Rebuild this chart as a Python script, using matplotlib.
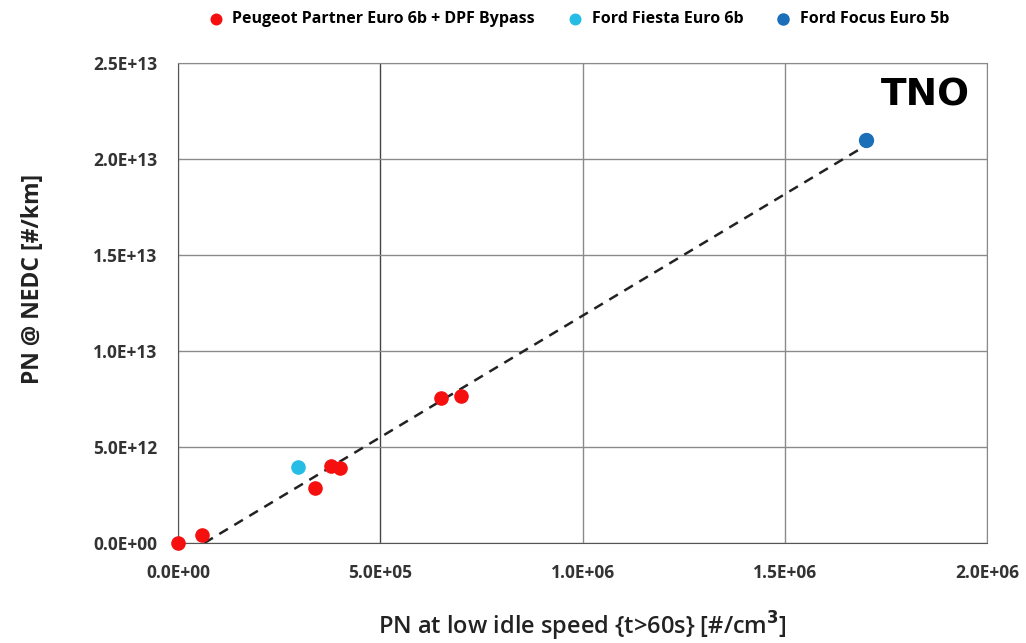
import matplotlib.pyplot as plt
from matplotlib.ticker import FuncFormatter

plt.rcParams['font.family'] = ['Open Sans', 'DejaVu Sans']
plt.rcParams['font.weight'] = 'bold'

# Peugeot Partner Euro 6b + DPF Bypass
peugeot_x = [0.0, 6.0e4, 3.39e5, 3.78e5, 4.0e5, 6.5e5, 7.0e5]
peugeot_y = [0.0, 4.2e11, 2.86e12, 4.01e12, 3.9e12, 7.55e12, 7.66e12]
# Ford Fiesta Euro 6b
fiesta_x = [2.97e5]
fiesta_y = [3.96e12]
# Ford Focus Euro 5b
focus_x = [1.70e6]
focus_y = [2.10e13]
# trend line end points
trend_x = [6.5e4, 1.70e6]
trend_y = [0.0, 2.07e13]

xticks = [0, 5e5, 1e6, 1.5e6, 2e6]
yticks = [0, 5e12, 1e13, 1.5e13, 2e13, 2.5e13]


def sci(v, pos):
    return '%.1E' % v


fig = plt.figure(figsize=(10.26, 6.43), dpi=100)
ax = fig.add_axes([0.1735, 0.1555, 0.7885, 0.7465])

ax.plot(trend_x, trend_y, color='#222222', linestyle=(0, (4, 3)), linewidth=1.8, zorder=2)
ax.scatter(peugeot_x, peugeot_y, s=90, color='#f50f0f', label='Peugeot Partner Euro 6b + DPF Bypass',
           zorder=3, clip_on=False)
ax.scatter(fiesta_x, fiesta_y, s=90, color='#25bde6', label='Ford Fiesta Euro 6b', zorder=3)
ax.scatter(focus_x, focus_y, s=100, color='#1b6fb8', label='Ford Focus Euro 5b', zorder=3)

ax.set_xlim(0, 2e6)
ax.set_ylim(0, 2.5e13)
ax.set_xticks(xticks)
ax.set_yticks(yticks)
ax.xaxis.set_major_formatter(FuncFormatter(sci))
ax.yaxis.set_major_formatter(FuncFormatter(sci))
ax.tick_params(length=0, labelsize=12.5, pad=15, labelcolor='#333333')

ax.grid(True, color='#8a8a8a', linewidth=1.0, zorder=0)
ax.set_axisbelow(True)
for side in ['top', 'right']:
    ax.spines[side].set_color('#8a8a8a')
ax.spines['left'].set_color('#555555')
ax.spines['bottom'].set_color('#555555')
ax.get_xgridlines()[1].set_color('#444444')

ax.set_xlabel('PN at low idle speed {t>60s} [#/cm$^3$]', fontsize=17, labelpad=20,
              fontweight='semibold', color='#222222')
ax.set_ylabel('PN @ NEDC [#/km]', fontsize=16.5, fontweight='bold', color='#222222')
ax.yaxis.set_label_coords(-0.165, 0.55)

ax.legend(loc='lower center', bbox_to_anchor=(0.49, 1.045), ncol=3, frameon=False,
          handletextpad=0.05, columnspacing=1.5, markerscale=0.8,
          prop={'weight': 'bold', 'size': 11.5})

fig.text(0.902, 0.852, 'TNO', fontsize=27, fontweight='heavy', ha='center', va='center',
         family='DejaVu Sans')

fig.savefig('out.png', dpi=100)
